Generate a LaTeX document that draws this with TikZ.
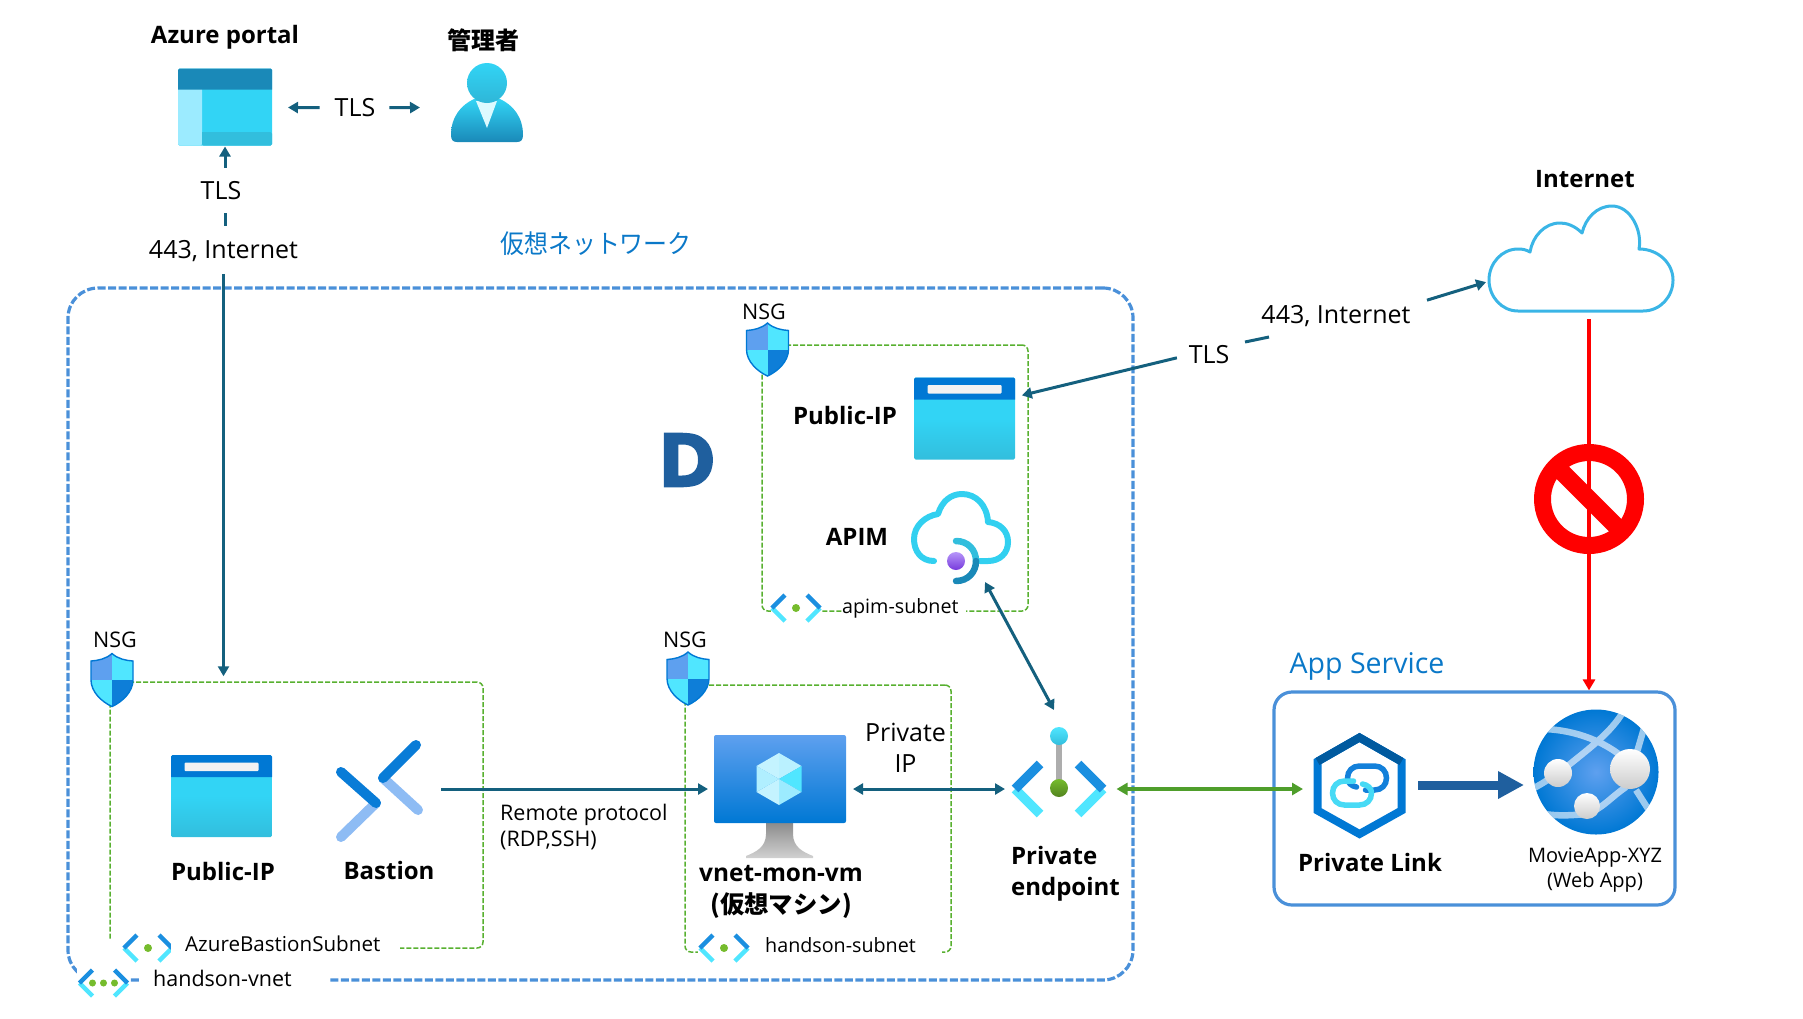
\documentclass[tikz,border=0pt]{standalone}
\usepackage{fontspec}
\setmainfont{Open Sans}
\newfontfamily\cjk{Noto Sans CJK JP}
\newfontfamily\dfont{DejaVu Sans}[BoldFeatures={FakeBold=2}]
\usepackage{graphicx}
\usetikzlibrary{arrows.meta,positioning}

\definecolor{flowblue}{HTML}{14607E}
\definecolor{vnetblue}{HTML}{4A90D9}
\definecolor{titleblue}{HTML}{0A78C8}
\definecolor{subnetgreen}{HTML}{58B030}
\definecolor{azblue}{HTML}{0078D4}
\definecolor{azsky}{HTML}{5EA0EF}
\definecolor{azcyan}{HTML}{32D4F5}
\definecolor{azteal}{HTML}{32BEDD}
\definecolor{azdeep}{HTML}{1A89B8}
\definecolor{azpale}{HTML}{9CEBFF}
\definecolor{azice}{HTML}{50E6FF}
\definecolor{chevblue}{HTML}{1B8FE0}
\definecolor{leafgreen}{HTML}{76BC2D}
\definecolor{darkarrow}{HTML}{1F5F9E}
\definecolor{dotlight}{HTML}{B796F9}
\definecolor{dotdark}{HTML}{773ADC}

\tikzset{
  shieldoutline/.style={insert path={(0,-26.5) .. controls (-6,-21) and (-14,-19.5) .. (-21,-19) -- (-21,0)
    .. controls (-21,12) and (-10,22) .. (0,26.5) .. controls (10,22) and (21,12) .. (21,0)
    -- (21,-19) .. controls (14,-19.5) and (6,-21) .. (0,-26.5) -- cycle}},
  shieldicon/.pic={
    \begin{scope}
      \clip[shieldoutline];
      \fill[azsky] (-23,-28) rectangle (0,0);
      \fill[azice] (0,-28) rectangle (23,0);
      \fill[azice] (-23,0) rectangle (0,28);
      \fill[azblue!85!azsky] (0,0) rectangle (23,28);
    \end{scope}
    \draw[azblue,line width=1.4pt,shieldoutline];
  },
  subneticon/.pic={
    \draw[azice,line width=4.5pt] (-24,0) -- (-11,13) (24,0) -- (11,13);
    \draw[chevblue,line width=4.5pt] (-24,0) -- (-11,-13) (24,0) -- (11,-13);
    \fill[leafgreen] (0,0) circle (4pt);
  },
  vneticon/.pic={
    \draw[azice,line width=4.5pt] (-24,0) -- (-11,13) (24,0) -- (11,13);
    \draw[chevblue,line width=4.5pt] (-24,0) -- (-11,-13) (24,0) -- (11,-13);
    \fill[leafgreen] (-11,0) circle (3.5pt) (0,0) circle (3.5pt) (11,0) circle (3.5pt);
  },
  publicipicon/.pic={
    \path[rounded corners=1.5pt,top color=azcyan,bottom color=azteal,middle color=azcyan] (-50.5,-41) rectangle (50.5,41);
    \fill[azblue] (-50.5,-19) [rounded corners=1.5pt] -- (-50.5,-41) -- (50.5,-41) [sharp corners] -- (50.5,-19) -- cycle;
    \fill[white!95!black,rounded corners=1pt] (-37,-33.5) rectangle (37,-25);
  },
  portalicon/.pic={
    \fill[azcyan,rounded corners=1.5pt] (-47,-38.5) rectangle (47,38.5);
    \fill[azpale,rounded corners=1.5pt] (-47,-20) rectangle (-23,38.5);
    \fill[azteal] (-23,25) [rounded corners=1.5pt] -- (47,25) -- (47,38.5) -- (-23,38.5) [sharp corners] -- cycle;
    \fill[azdeep] (-47,-17.5) [rounded corners=1.5pt] -- (-47,-38.5) -- (47,-38.5) [sharp corners] -- (47,-17.5) -- cycle;
  },
  adminicon/.pic={
    \path[top color=azcyan,bottom color=azdeep] (-36,28) .. controls (-36,10) and (-26,-2) .. (-13,-8)
      -- (13,-8) .. controls (26,-2) and (36,10) .. (36,28) .. controls (36,33) and (34,35) .. (30,35)
      -- (-30,35) .. controls (-34,35) and (-36,33) .. (-36,28) -- cycle;
    \fill[white!80!azice] (-11,-6) -- (10,-6) -- (0,21) -- cycle;
    \path[top color=azcyan,bottom color=azteal!85!azdeep] (0,-24) ellipse (20pt and 20pt);
  },
  apimicon/.pic={
    \draw[azcyan!80!azteal,line width=6pt,line cap=round,line join=round] (-27,25) .. controls (-40,25) and (-47,15) .. (-47,3)
      .. controls (-47,-10) and (-36,-20) .. (-23,-22) .. controls (-19,-35) and (-10,-42) .. (1,-42)
      .. controls (15,-42) and (26,-31) .. (27,-14) .. controls (39,-13) and (47,-5) .. (47,6)
      .. controls (47,17) and (39,25) .. (27,25) -- (19,25);
    \draw[azteal,line width=6.5pt,line cap=round] (-5,5) .. controls (7,5) and (15,14) .. (15,25);
    \draw[azdeep,line width=6.5pt,line cap=round] (15,25) .. controls (15,36) and (7,45) .. (-5,45);
    \path[top color=dotlight,bottom color=dotdark] (-5,25) circle (9pt);
  },
  bastionicon/.pic={
    \draw[azsky!70!white,line width=10pt,line cap=round] (3,-11) -- (38,21) (-4,14) -- (-39,48);
    \draw[azblue!90!azsky,line width=10pt,line cap=round] (36,-44) -- (3,-11) (-39,-17) -- (-4,14);
  },
  vmicon/.pic={
    \path[top color=black!45,bottom color=black!18] (-14,34) -- (-14,45) .. controls (-14,58) and (-24,63) .. (-34,67)
      -- (-34,69) -- (33,69) -- (33,67) .. controls (23,63) and (13,58) .. (13,45) -- (13,34) -- cycle;
    \path[rounded corners=2pt,top color=azsky,bottom color=azblue] (-66,-54) rectangle (66,34);
    \begin{scope}[shift={(-1,-10)}]
      \fill[azpale!60!white] (0,0) -- (-22.5,-13) -- (0,-26) -- cycle;
      \fill[azpale!70!white] (0,0) -- (22.5,-13) -- (0,-26) -- cycle;
      \fill[azice] (0,0) -- (22.5,-13) -- (22.5,13) -- cycle;
      \fill[azpale] (0,0) -- (22.5,13) -- (0,26) -- cycle;
      \fill[azpale!60!white] (0,0) -- (-22.5,13) -- (0,26) -- cycle;
      \fill[azpale!80!white] (0,0) -- (-22.5,-13) -- (-22.5,13) -- cycle;
    \end{scope}
  },
  endpointicon/.pic={
    \draw[azice,line width=9.5pt] (-44,0) -- (-19,25) (44,0) -- (19,25);
    \draw[chevblue,line width=9.5pt] (-44,0) -- (-19,-25) (44,0) -- (19,-25);
    \fill[black!32] (-3,-53) rectangle (3,0);
    \path[top color=azice,bottom color=azteal] (0,-53) circle (9pt);
    \path[top color=leafgreen,bottom color=leafgreen!70!black] (0,-1) circle (9pt);
  },
  cloudicon/.pic={
    \draw[azdeep!30!azcyan!70!azsky,line width=3pt,line join=round] (-62.5,52.5) -- (62.5,52.5) .. controls (80,52.5) and (92.5,38) .. (92.5,21.5)
      .. controls (92.5,5) and (78,-9.5) .. (58.5,-9.5) .. controls (62,-28) and (50,-52.5) .. (31.5,-52.5)
      .. controls (16,-52.5) and (5,-40) .. (1.5,-25.5) .. controls (-6,-33) and (-14,-35.5) .. (-20.5,-35.5)
      .. controls (-36,-35.5) and (-48,-22) .. (-50.5,-6.5) .. controls (-55,-9) and (-58,-9.5) .. (-62.5,-9.5)
      .. controls (-79,-9.5) and (-91.5,5) .. (-91.5,21.5) .. controls (-91.5,38) and (-79,52.5) .. (-62.5,52.5) -- cycle;
  },
  linkicon/.pic={
    \draw[azblue,line width=8pt,line join=miter] (0,-48.5) -- (42,-24.5) -- (42,24.5) -- (0,48) -- (-42,24.5) -- (-42,-24.5) -- cycle;
    \draw[azblue!75!black,line width=8pt,line join=miter] (-42,-24.5) -- (0,-48.5) -- (42,-24.5);
    \draw[azblue!80!azsky,line width=5.5pt,line cap=round] (6,4) -- (15,4) .. controls (22,4) and (27,-1) .. (27,-8)
      .. controls (27,-15) and (22,-20) .. (15,-20) -- (0,-20) .. controls (-7,-20) and (-12,-15) .. (-12,-8) .. controls (-12,-3) and (-8,0) .. (-3,1);
    \draw[azice!70!azteal,line width=5.5pt,line cap=round] (-6,-5) -- (-15,-5) .. controls (-22,-5) and (-27,0) .. (-27,7)
      .. controls (-27,14) and (-22,19) .. (-15,19) -- (0,19) .. controls (7,19) and (12,14) .. (12,7) .. controls (12,2) and (8,-1) .. (3,-2);
  },
  webappicon/.pic={
    \path[inner color=azsky,outer color=azblue] (0,0) circle (62.5pt);
    \begin{scope}
      \clip (0,0) circle (62.5pt);
      \draw[white,opacity=.6,line width=6.5pt] (-52,-43) .. controls (-20,-42) and (10,-30) .. (30,-12)
        (40,18) -- (54,40)
        (27,-60) .. controls (15,-40) and (-5,-25) .. (-26,-8) .. controls (-40,2) and (-50,10) .. (-64,17)
        (-62,40) .. controls (-45,44) and (-30,44) .. (-10,42) .. controls (5,38) and (15,25) .. (30,15)
        (48,-44) -- (41,-20);
    \end{scope}
    \path[top color=white,bottom color=black!20] (-38,1) circle (14pt);
    \path[top color=white,bottom color=black!20] (34,-3) circle (20pt);
    \path[top color=white,bottom color=black!20] (-9,34) circle (13pt);
  },
}

\begin{document}
\begin{tikzpicture}[x=1pt,y=-1pt,on grid,
  iconbox/.style = {inner sep=0,outer sep=0},
  maskicon/.style = {inner sep=0,outer sep=0,fill=white},
  title/.style = {inner sep=0,align=center,font=\bfseries\fontsize{24}{31}\selectfont},
  plain/.style = {inner sep=0,align=center,font=\fontsize{25}{31}\selectfont},
  small/.style = {inner sep=0,align=center,font=\fontsize{21.5}{26}\selectfont},
  sublabel/.style = {inner sep=0,anchor=west,fill=white,align=left,font=\fontsize{19.7}{24}\selectfont},
  vnetbox/.style = {draw=vnetblue,line width=3.2pt,dash pattern=on 8pt off 2.5pt,rounded corners=30pt,inner sep=0},
  subnetbox/.style = {draw=subnetgreen,line width=1.5pt,dash pattern=on 5pt off 2pt,rounded corners=6pt,inner sep=0},
  flow/.style = {draw=flowblue,line width=3pt,-{Triangle[length=10pt,width=11pt]}},
  flowboth/.style = {draw=flowblue,line width=3pt,{Triangle[length=10pt,width=11pt]}-{Triangle[length=10pt,width=11pt]}},
  flowplain/.style = {draw=flowblue,line width=3pt},
  ]
  \useasboundingbox (0,0) rectangle (1803,1018);

  \node[vnetbox,minimum width=1065pt,minimum height=692pt] (vnet) at (600.5,634) {};
  \node[subnetbox,minimum width=373pt,minimum height=266pt] (bastionsubnet) at (296.5,815) {};
  \node[subnetbox,minimum width=266pt,minimum height=267pt] (handsonsubnet) at (818,818.5) {};
  \node[subnetbox,minimum width=266pt,minimum height=266pt] (apimsubnet) at (895,478) {};
  \node[draw=vnetblue,line width=3.2pt,rounded corners=18pt,inner sep=0,minimum width=401pt,minimum height=213pt] (appservice) at (1474.5,798.5) {};

  % top row
  \node[iconbox,minimum width=94pt,minimum height=77pt] (portal) at (225,107) {};
  \pic at (portal) {portalicon};
  \node[title] (portaltext) [above=70pt of portal] {Azure portal};
  \node[iconbox,minimum width=72pt,minimum height=70pt] (admin) at (487,107) {};
  \pic at (admin) {adminicon};
  \node[title,xshift=-4pt] (admintext) [above=67pt of admin] {\cjk 管理者};
  \node[plain] (tlsportal) at (355,108) {TLS};
  \node[plain] (tlsdown) at (221,191) {TLS};
  \node[plain] (inetdown) at (223.5,251) {443, Internet};
  \node[inner sep=0,font=\cjk\fontsize{26}{30}\selectfont,text=titleblue] (vnettitle) at (596,244) {\scalebox{.92}[1]{仮想ネットワーク}};

  % vnet label
  \node[maskicon,minimum width=53pt,minimum height=31pt] (vneticon) at (103.5,983) {};
  \pic at (vneticon) {vneticon};
  \node[sublabel,text width=188pt,font=\fontsize{21.5}{24}\selectfont] (vnettext) at (140,978) {\hspace*{13pt}handson-vnet};

  % bastion subnet
  \node[iconbox,minimum width=42pt,minimum height=53pt] (nsgbastion) at (112,680) {};
  \pic at (nsgbastion) {shieldicon};
  \node[small,xshift=3pt] (nsgbastiontext) [above=40pt of nsgbastion] {NSG};
  \node[maskicon,minimum width=66pt,minimum height=16pt] (bastionnet) at (138,948) {};
  \pic at (148,948) {subneticon};
  \node[sublabel,text width=229pt,font=\fontsize{20.6}{24}\selectfont] (bastionnettext) at (171,944) {\hspace*{14pt}AzureBastionSubnet};
  \node[iconbox,minimum width=101pt,minimum height=82pt] (ipbastion) at (221.5,796) {};
  \pic at (ipbastion) {publicipicon};
  \node[title,xshift=1.5pt] (ipbastiontext) [below=75pt of ipbastion] {Public-IP};
  \node[iconbox,minimum width=90pt,minimum height=94pt] (bastion) at (380,789) {};
  \pic at (bastion) {bastionicon};
  \node[title,xshift=9pt] (bastiontext) [below=81pt of bastion] {Bastion};
  \node[small,anchor=west,align=left] (remotetext) at (500,827) {Remote protocol\\(RDP,SSH)};

  % vm subnet
  \node[iconbox,minimum width=42pt,minimum height=53pt] (nsgvm) at (688,678.5) {};
  \pic at (nsgvm) {shieldicon};
  \node[small,xshift=-3pt] (nsgvmtext) [above=38.5pt of nsgvm] {NSG};
  \node[maskicon,minimum width=52pt,minimum height=30pt] (handsonnet) at (724,948) {};
  \pic at (handsonnet) {subneticon};
  \node[sublabel,text width=192pt] (handsonnettext) at (750,945) {\hspace*{15pt}handson-subnet};
  \node[iconbox,minimum width=132pt,minimum height=138pt] (vm) at (780,789) {};
  \pic at (vm) {vmicon};
  \node[title,xshift=1pt,font=\bfseries\fontsize{24.4}{32}\selectfont] (vmtext) [below=102.5pt of vm] {vnet-mon-vm\\{\cjk(仮想マシン)}};
  \node[plain] (privateip) at (905.5,748) {Private\\IP};

  % apim subnet
  \node[iconbox,minimum width=42pt,minimum height=53pt] (nsgapim) at (767.5,349.5) {};
  \pic at (nsgapim) {shieldicon};
  \node[small,xshift=-3.5pt] (nsgapimtext) [above=37.5pt of nsgapim] {NSG};
  \node[maskicon,minimum width=51pt,minimum height=30pt] (apimnet) at (796,608) {};
  \pic at (apimnet) {subneticon};
  \node[sublabel,text width=124pt] (apimnettext) at (842,608) {apim-subnet};
  \node[iconbox,minimum width=101pt,minimum height=81pt] (ipapim) at (964.5,418.5) {};
  \pic at (ipapim) {publicipicon};
  \node[title] (ipapimtext) at (845,415) {Public-IP};
  \node[iconbox,minimum width=99pt,minimum height=92pt] (apim) at (961,536) {};
  \pic at (apim) {apimicon};
  \node[title] (apimtext) at (857,537) {APIM};
  \node[inner sep=0,text=darkarrow,font=\dfont\bfseries\fontsize{73}{73}\selectfont] (dmark) at (687,460) {\scalebox{.95}[1]{D}};

  % endpoint
  \node[iconbox,minimum width=96pt,minimum height=158pt] (endpoint) at (1059,789) {};
  \pic at (endpoint) {endpointicon};
  \node[title,align=left,xshift=6.5pt] (endpointtext) [below=84.5pt of endpoint] {Private\\endpoint};

  % internet side
  \node[iconbox,minimum width=185pt,minimum height=105pt] (cloud) at (1580.5,258.5) {};
  \pic at (cloud) {cloudicon};
  \node[title,xshift=4.5pt] (cloudtext) [above=79.5pt of cloud] {Internet};
  \node[plain] (tlsinet) at (1209,355) {TLS};
  \node[plain] (inetright) at (1336,316) {443, Internet};
  \coordinate (gapstart) at (1245,342);
  \coordinate (gapend) at (1269,337);

  % app service
  \node[inner sep=0,text=titleblue,font=\fontsize{28.5}{34}\selectfont,xshift=-107.5pt] (apptext) [above=132.5pt of appservice] {App Service};
  \node[iconbox,minimum width=93pt,minimum height=106pt] (link) at (1359.5,789) {};
  \pic at (1359.5,786) {linkicon};
  \node[title,xshift=10.5pt] (linktext) [below=73pt of link] {Private Link};
  \node[iconbox,minimum width=125pt,minimum height=125pt] (webapp) at (1596,772) {};
  \pic at (webapp) {webappicon};
  \node[inner sep=0,align=center,font=\fontsize{20}{25}\selectfont,xshift=-1pt] (webapptext) [below=98.5pt of webapp] {MovieApp-XYZ\\(Web App)};
  \node[circle,draw=red,line width=17pt,outer sep=0,inner sep=0,minimum size=93pt] (nogo) at (1589,499) {};

  % connectors
  \draw[flow,shorten <=15pt,shorten >=16pt] (tlsportal) -- (portal);
  \draw[flow,shorten <=14pt,shorten >=31pt] (tlsportal) -- (admin);
  \draw[flow,shorten <=14pt,shorten >=1pt] (portal.south |- tlsdown.north) -- (portal.south);
  \draw[flowplain,shorten <=13pt,shorten >=14pt] (portal.south |- tlsdown.south) -- (portal.south |- inetdown.north);
  \draw[flow,shorten <=12pt,shorten >=5pt] (inetdown.south) -- (bastionsubnet.north -| inetdown);
  \draw[flow,shorten <=16pt,shorten >=6pt] (bastion) -- (vm);
  \draw[flowboth,shorten <=7pt,shorten >=6pt] (vm) -- (endpoint);
  \draw[flowboth] ([xshift=24pt]apim.south) -- ([xshift=-5pt]endpoint.north);
  \draw[flow,shorten <=12pt,shorten >=7pt] (tlsinet.west) -- ([yshift=21.5pt]ipapim.east);
  \draw[flowplain] (gapstart) -- (gapend);
  \draw[flow,shorten <=17pt,shorten >=2pt] (inetright.north east) -- ([yshift=-23pt]cloud.west);
  \draw[draw=subnetgreen!90!black,line width=3.5pt,{Triangle[length=11pt,width=12pt]}-{Triangle[length=11pt,width=12pt]},shorten <=9.5pt,shorten >=10pt] (endpoint) -- (link);
  \draw[draw=darkarrow,line width=9pt,-{Triangle[length=26pt,width=26pt]},shorten <=12pt,shorten >=9.5pt] ([yshift=4pt]link.east) -- (webapp.west |- 0,785);
  \draw[draw=red,line width=4pt,-{Triangle[length=11pt,width=12pt]},shorten <=8pt] (cloud.south -| nogo) -- (appservice.north -| nogo);
  \draw[draw=red,line width=17.5pt] (nogo.135) -- (nogo.-45);
\end{tikzpicture}
\end{document}
